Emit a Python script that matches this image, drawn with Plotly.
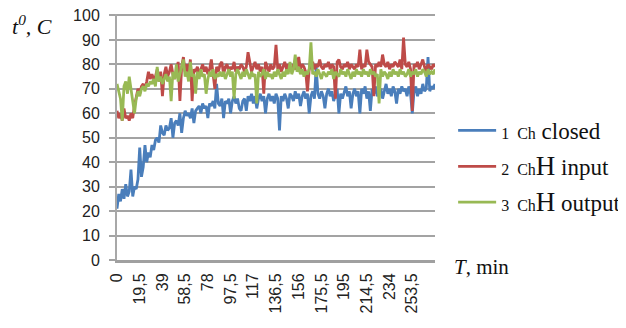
import plotly.graph_objects as go

STEP = 1.5  # minutes between samples

blue_closed = [
    21, 27, 24, 29, 25, 31, 26, 28, 37, 26,
    30, 29, 33, 46, 34, 38, 47, 40, 44, 42,
    47, 45, 49, 50, 48, 55, 52, 51, 55, 53,
    54, 58, 50, 56, 57, 55, 60, 52, 58, 61,
    59, 60, 58, 62, 56, 61, 62, 63, 60, 64,
    62, 63, 58, 64, 63, 65, 62, 72, 64, 63,
    66, 58, 65, 64, 66, 60, 65, 67, 64, 66,
    62, 61, 65, 66, 61, 67, 65, 68, 64, 67,
    62, 66, 68, 65, 67, 60, 66, 68, 65, 67,
    64, 68, 66, 53, 67, 65, 68, 66, 62, 68,
    67, 65, 69, 66, 68, 63, 67, 69, 66, 68,
    60, 67, 69, 66, 79, 68, 66, 69, 67, 62,
    68, 70, 67, 69, 65, 68, 70, 60, 68, 66,
    69, 71, 67, 69, 62, 68, 70, 67, 69, 60,
    70, 68, 71, 66, 69, 61, 70, 68, 71, 67,
    69, 70, 66, 69, 72, 68, 70, 67, 71, 69,
    64, 70, 68, 71, 69, 70, 67, 71, 68, 60,
    69, 71, 67, 70, 68, 72, 69, 70, 83, 69,
    71, 70, 72,
]

red_input = [
    61, 58, 60, 57, 62, 58, 59, 57, 60, 58,
    63, 67, 70, 68, 71, 72, 70, 73, 77, 74,
    76, 74, 75, 78, 73, 77, 67, 76, 79, 75,
    77, 80, 76, 74, 78, 81, 65, 79, 83, 77,
    80, 76, 82, 65, 78, 77, 79, 76, 78, 80,
    77, 79, 76, 78, 82, 77, 70, 79, 77, 80,
    81, 76, 79, 80, 77, 79, 78, 81, 77, 79,
    78, 80, 79, 77, 79, 85, 80, 77, 79, 81,
    78, 80, 77, 79, 68, 81, 79, 77, 80, 78,
    79, 88, 78, 80, 77, 79, 81, 78, 80, 79,
    77, 80, 78, 79, 83, 78, 80, 79, 77, 69,
    78, 79, 81, 78, 80, 79, 82, 79, 78, 80,
    79, 81, 78, 80, 79, 66, 81, 82, 79, 78,
    80, 79, 81, 78, 80, 79, 78, 80, 79, 86,
    78, 80, 79, 86, 81, 80, 79, 67, 80, 79,
    81, 79, 84, 80, 79, 81, 78, 80, 79, 81,
    80, 79, 82, 78, 91, 80, 79, 81, 78, 61,
    80, 79, 81, 78, 80, 82, 79, 77, 80, 79,
    78, 80, 79,
]

green_output = [
    72, 69, 66, 57, 71, 73, 68, 75, 70, 63,
    60, 66, 69, 67, 70, 71, 69, 72, 71, 73,
    72, 74, 71, 79, 73, 75, 72, 74, 76, 73,
    75, 65, 77, 74, 80, 73, 76, 78, 82, 75,
    77, 73, 81, 75, 76, 68, 77, 74, 78, 75,
    76, 68, 74, 77, 75, 78, 74, 76, 75, 77,
    75, 77, 74, 76, 78, 75, 77, 66, 76, 78,
    76, 74, 77, 75, 78, 76, 74, 77, 75, 76,
    64, 77, 75, 76, 78, 74, 77, 75, 76, 74,
    77, 75, 78, 76, 74, 77, 75, 78, 76, 81,
    76, 78, 84, 77, 79, 76, 78, 75, 77, 76,
    78, 89, 76, 77, 75, 78, 76, 74, 77, 76,
    75, 77, 76, 78, 74, 77, 76, 75, 78, 76,
    77, 75, 78, 76, 74, 77, 75, 78, 76, 77,
    75, 78, 76, 77, 75, 78, 76, 77, 75, 76,
    64, 78, 75, 77, 76, 74, 77, 75, 78, 76,
    77, 75, 78, 76, 77, 75, 76, 78, 75, 77,
    76, 78, 75, 77, 76, 78, 77, 75, 78, 76,
    77, 76, 78,
]

tick_values = [0, 19.5, 39, 58.5, 78, 97.5, 117, 136.5, 156, 175.5, 195, 214.5, 234, 253.5]
tick_labels = ["0", "19,5", "39", "58,5", "78", "97,5", "117", "136,5", "156",
               "175,5", "195", "214,5", "234", "253,5"]
y_ticks = [0, 10, 20, 30, 40, 50, 60, 70, 80, 90, 100]

SMALL = '<span style="font-size:16px">{}</span>'
BIG = '<span style="font-size:27px">{}</span>'
series_names = [
    SMALL.format("1 &nbsp;Ch") + " closed",
    SMALL.format("2 &nbsp;Ch") + BIG.format("H") + " input",
    SMALL.format("3 &nbsp;Ch") + BIG.format("H") + " output",
]
series_colors = ["#4A7EBB", "#BE4B48", "#98B954"]
series_values = [blue_closed, red_input, green_output]

SERIF = "Liberation Serif, Times New Roman, serif"
SANS = "Liberation Sans, Arial, sans-serif"

fig = go.Figure()
for i, (name, color, vals) in enumerate(zip(series_names, series_colors, series_values)):
    xs = [k * STEP for k in range(len(vals))]
    fig.add_trace(go.Scatter(
        x=xs, y=vals, mode="lines", name=name,
        line=dict(color=color, width=2.8),
        legendgroup=f"g{i}",
    ))

# the page body has an 8px default margin; size the figure so the plot lands where the reference has it
fig.update_layout(
    width=618, height=320,
    margin=dict(l=109, r=191, t=6, b=68, autoexpand=False),
    paper_bgcolor="white", plot_bgcolor="white",
    font=dict(family=SERIF, size=16, color="#222222"),
    showlegend=True,
    legend=dict(
        x=1.057, y=0.614, xanchor="left", yanchor="top",
        font=dict(family=SERIF, size=23, color="#111111"),
        tracegroupgap=3, itemwidth=38,
        bgcolor="rgba(0,0,0,0)",
    ),
    xaxis=dict(
        range=[0, 273], tickvals=tick_values, ticktext=tick_labels,
        tickangle=-90, showgrid=False, zeroline=False,
        showline=True, linecolor="#A0A0A0", linewidth=3,
        tickfont=dict(family=SANS, size=16, color="#222222"),
        ticks="", ticklabelstandoff=4,
    ),
    yaxis=dict(
        range=[0, 100.6], tickvals=y_ticks, showgrid=True,
        gridcolor="#A3A3A3", gridwidth=1.5, zeroline=False,
        showline=True, linecolor="#A8A8A8", linewidth=2,
        tickfont=dict(family=SANS, size=16, color="#222222"),
        ticks="outside", ticklen=6, tickcolor="#A3A3A3", tickwidth=1.5,
        ticklabelstandoff=6, ticklabeloverflow="allow",
    ),
    annotations=[
        dict(text="<i>t</i><sup><i>0</i></sup><i>, C</i>", xref="paper", yref="paper",
             x=-0.335, y=0.955, xanchor="left", yanchor="middle", showarrow=False,
             font=dict(family=SERIF, size=22, color="#111111")),
        dict(text="<i>T</i>, min", xref="paper", yref="paper",
             x=1.053, y=-0.03, xanchor="left", yanchor="middle", showarrow=False,
             font=dict(family=SERIF, size=21, color="#111111")),
    ],
)

fig.write_html("out.html")
